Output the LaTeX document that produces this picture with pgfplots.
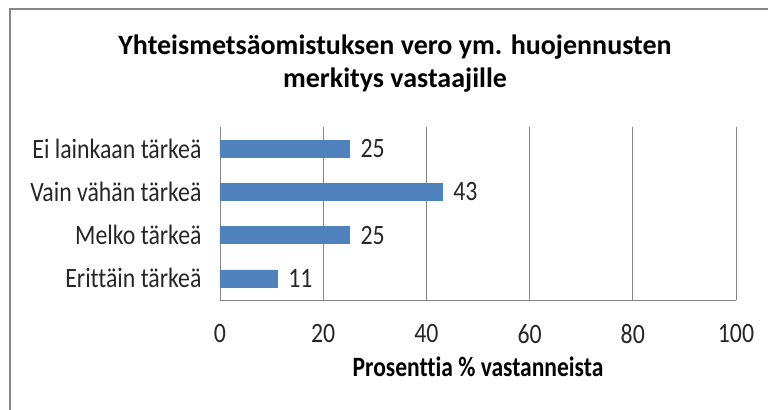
\documentclass[border=0pt]{standalone}
\usepackage{pgfplots}
\pgfplotsset{compat=1.18}
\usepackage{fontspec}
\setmainfont{Carlito}[FakeStretch=0.85, Ligatures=NoCommon]
\newfontfamily\labelbold{Carlito}[FakeStretch=0.84, Ligatures=NoCommon, UprightFont=*-Bold]
\newfontfamily\titlefont{Carlito}[FakeStretch=1.0, Ligatures=NoCommon, UprightFont=*-Bold]
\definecolor{barblue}{HTML}{4F81BD}
\definecolor{gridgray}{HTML}{868686}
\definecolor{framegray}{HTML}{878787}
\begin{document}
\begin{tikzpicture}
\begin{axis}[
  at={(0,0)}, anchor=south west,
  width=516bp, height=173bp, scale only axis,
  xbar,
  xmin=0, xmax=100, ymin=-0.5, ymax=3.5,
  xtick={0,20,...,100},
  ytick={0,1,2,3},
  yticklabels={Erittäin tärkeä, Melko tärkeä, Vain vähän tärkeä, Ei lainkaan tärkeä},
  xmajorgrids,
  grid style={gridgray, line width=0.9bp},
  axis x line*=bottom, axis y line*=left,
  axis line style={gridgray, line width=0.9bp, -},
  major tick length=0pt,
  bar width=0.39,
  font=\fontsize{28bp}{33bp}\selectfont,
  tick label style={font=\fontsize{28bp}{33bp}\selectfont, text=black!85},
  /pgf/number format/assume math mode=true,
  xticklabel style={yshift=-21bp},
  yticklabel style={xshift=-15bp},
  xlabel={\labelbold Prosenttia \% vastanneista},
  xlabel style={at={(axis description cs:0.5,0)}, anchor=center, yshift=-67bp},
  nodes near coords,
  nodes near coords style={anchor=west, xshift=8bp, text=black!85, font=\fontsize{28bp}{33bp}\selectfont},
]
\addplot[fill=barblue, draw=barblue] coordinates {(11,0) (25,1) (43,2) (25,3)};
\end{axis}
\node[align=center, font=\fontsize{28bp}{33bp}\titlefont] at (175bp,236bp)
  {Yhteismetsäomistuksen vero ym. huojennusten\\merkitys vastaajille};
\draw[framegray, line width=2bp] (-210bp,-130bp) -- (-210bp,291bp) -- (570bp,291bp);
\pgfresetboundingbox
\useasboundingbox (-220bp,-110bp) rectangle (548bp,300bp);
\end{tikzpicture}
\end{document}
